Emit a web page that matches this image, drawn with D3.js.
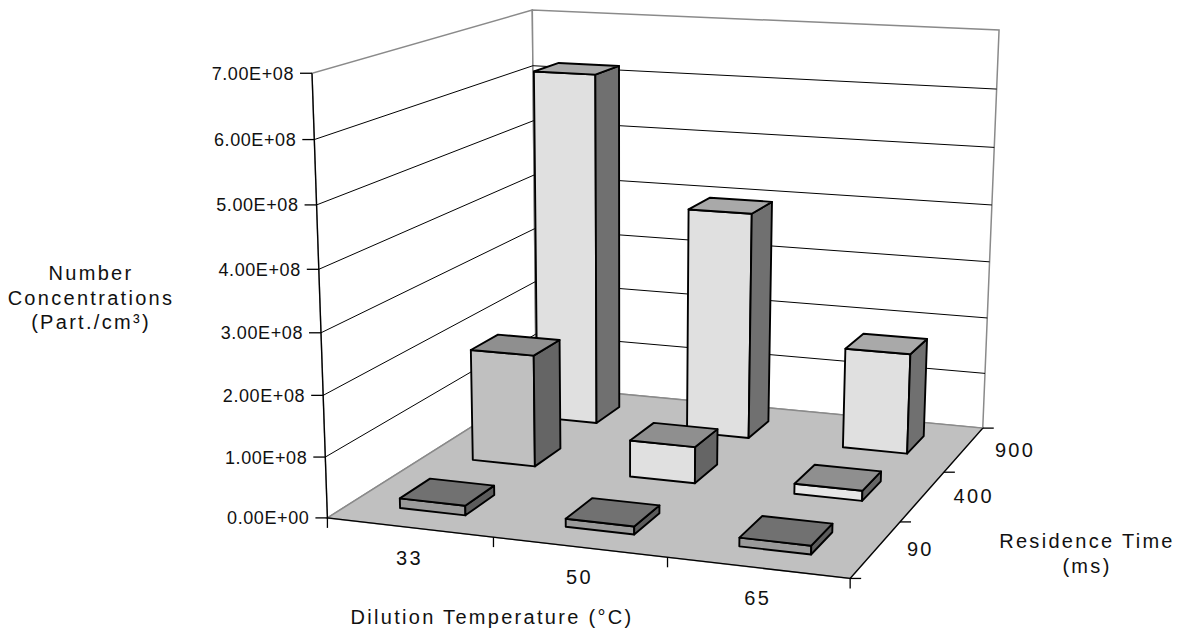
<!DOCTYPE html>
<html><head><meta charset="utf-8">
<script src="https://cdn.jsdelivr.net/npm/d3@7"></script>
<style>
body{margin:0;background:#fff}
text{font-family:"Liberation Sans",Arial,sans-serif;fill:#111}
</style>
</head><body><svg id="c" width="1185" height="632"></svg>
<script>
// ---------------- data ----------------
const temperatures = ["33", "50", "65"];          // Dilution Temperature (°C)
const residenceTimes = ["90", "400", "900"];      // Residence Time (ms), front -> back
const series90  = [1.6e7, 1.3e7, 1.4e7];
const series400 = [1.92e8, 6.2e7, 1.7e7];
const series900 = [6.2e8, 3.97e8, 1.75e8];
const yTickValues = [0, 1e8, 2e8, 3e8, 4e8, 5e8, 6e8, 7e8];
const yTickLabels = ["0.00E+00","1.00E+08","2.00E+08","3.00E+08","4.00E+08","5.00E+08","6.00E+08","7.00E+08"];
const seriesValues = [series90, series400, series900];

// ---------------- styles ----------------
const frontFill = [["#9a9a9a","#9a9a9a","#9a9a9a"],["#c0c0c0","#e0e0e0","#e6e6e6"],["#e0e0e0","#e0e0e0","#e0e0e0"]];
const topFill   = ["#717171", "#8f8f8f", "#a9a9a9"];
const sideFill  = ["#5c5c5c", "#656565", "#707070"];

// ---------------- camera (projection of the unit plot cube) ----------------
// world: x = temperature axis (0..1), y = value (0..1), z = depth front->back (0..1)
const calib = [
  [[0,0,0],[330,517.3]], [[0,1,0],[310.7,73]], [[0,6/7,0],[313.3,139.3]],
  [[0,0,1],[533,386]],   [[0,1,1],[534,10]],   [[0,6/7,1],[534,66]],
  [[1,0,1],[983.5,428]], [[1,1,1],[998.7,30]], [[1,6/7,1],[996,89.3]],
  [[1,0,0],[849.3,578.3]], [[1,0,1/3],[900,521.7]], [[1,0,2/3],[945,471.7]],
  [[1/3,0,0],[494,538]], [[2/3,0,0],[667,558]]
];
const CU = 600, CV = 300, CS = 300;
function fitCamera(pts){
  const A = [], b = [];
  for (const [[X,Y,Z],[u0,v0]] of pts){
    const u = (u0-CU)/CS, v = (v0-CV)/CS;
    A.push([X,Y,Z,1,0,0,0,0,-u*X,-u*Y,-u*Z]); b.push(u);
    A.push([0,0,0,0,X,Y,Z,1,-v*X,-v*Y,-v*Z]); b.push(v);
  }
  const n = 11;
  const M = Array.from({length:n}, () => new Array(n+1).fill(0));
  for (let r=0;r<A.length;r++){
    for (let i=0;i<n;i++){
      for (let j=0;j<n;j++) M[i][j] += A[r][i]*A[r][j];
      M[i][n] += A[r][i]*b[r];
    }
  }
  for (let c=0;c<n;c++){
    let p=c; for (let r=c+1;r<n;r++) if (Math.abs(M[r][c])>Math.abs(M[p][c])) p=r;
    [M[c],M[p]] = [M[p],M[c]];
    for (let r=0;r<n;r++){ if (r===c) continue;
      const f = M[r][c]/M[c][c];
      for (let k=c;k<=n;k++) M[r][k] -= f*M[c][k];
    }
  }
  return M.map((row,i)=>row[n]/row[i]);
}
const P = fitCamera(calib);
function proj([x,y,z]){
  const w = P[8]*x + P[9]*y + P[10]*z + 1;
  return [CU + CS*(P[0]*x+P[1]*y+P[2]*z+P[3])/w, CV + CS*(P[4]*x+P[5]*y+P[6]*z+P[7])/w];
}

// ---------------- scales ----------------
const xBand = d3.scaleBand().domain(temperatures).range([0,1]).paddingInner(0.6).paddingOuter(0.3);
const zBand = d3.scaleBand().domain(residenceTimes).range([0,1]).paddingInner(0.6).paddingOuter(0.3);
const xCat = d3.scalePoint().domain(temperatures).range([0,1]).padding(0.5);
const zCat = d3.scalePoint().domain(residenceTimes).range([0,1]).padding(0.5);
const yScale = d3.scaleLinear().domain([0, 7e8]).range([0, 1]);

const svg = d3.select("#c");
const line = d3.line();
const poly = pts => line(pts.map(proj)) + "Z";

// walls
const wallColor = "#8a8a8a";
svg.append("path").attr("d", poly([[0,0,0],[0,1,0],[0,1,1],[0,0,1]]))
  .attr("fill","#fff").attr("stroke",wallColor).attr("stroke-width",1.5);
svg.append("path").attr("d", poly([[0,0,1],[0,1,1],[1,1,1],[1,0,1]]))
  .attr("fill","#fff").attr("stroke",wallColor).attr("stroke-width",1.5);

// gridlines
const gridVals = yTickValues.filter(v => v > 0 && v < 7e8);
svg.append("g").selectAll("path").data(gridVals).join("path")
  .attr("d", v => { const y = yScale(v); return line([[0,y,0],[0,y,1],[1,y,1]].map(proj)); })
  .attr("fill","none").attr("stroke","#000").attr("stroke-width",1);

// floor
svg.append("path").attr("d", poly([[0,0,0],[1,0,0],[1,0,1],[0,0,1]]))
  .attr("fill","#c0c0c0").attr("stroke",wallColor).attr("stroke-width",1.5);

// axes lines
const axisG = svg.append("g").attr("stroke","#000").attr("stroke-width",1.3).attr("fill","none");
axisG.append("path").attr("d", line([[0,0,0],[0,1,0]].map(proj)));
axisG.append("path").attr("d", line([[0,0,0],[1,0,0]].map(proj)));
axisG.append("path").attr("d", line([[1,0,0],[1,0,1]].map(proj)));

// y ticks + labels
yTickValues.forEach((v,i) => {
  const [u,w] = proj([0, yScale(v), 0]);
  axisG.append("path").attr("d", `M${u-12},${w}H${u}`);
  svg.append("text").attr("x", u-18).attr("y", w).attr("dy","0.36em")
    .attr("text-anchor","end").attr("font-size",18).attr("letter-spacing",0.6)
    .text(yTickLabels[i]);
});
// x ticks (category boundaries)
[0,1/3,2/3,1].forEach(t => {
  const [u,w] = proj([t,0,0]);
  axisG.append("path").attr("d", `M${u},${w}V${w+10}`);
});
// z ticks
[0,1/3,2/3,1].forEach(t => {
  const [u,w] = proj([1,0,t]);
  axisG.append("path").attr("d", `M${u},${w}H${u+11}`);
});

// bars: back row first, left to right
const bars = [];
residenceTimes.forEach((rt, si) => temperatures.forEach((tc, ci) => bars.push({si, ci, rt, tc, v: seriesValues[si][ci]})));
bars.sort((a,b) => (b.si - a.si) || (a.ci - b.ci));
const barG = svg.append("g").attr("stroke","#000").attr("stroke-width",1.9).attr("stroke-linejoin","round");
bars.forEach(d => {
  const x0 = xBand(d.tc), x1 = x0 + xBand.bandwidth();
  const z0 = zBand(d.rt), z1 = z0 + zBand.bandwidth();
  const h = yScale(d.v);
  barG.append("path").attr("d", poly([[x0,0,z0],[x1,0,z0],[x1,h,z0],[x0,h,z0]])).attr("fill", frontFill[d.si][d.ci]);
  barG.append("path").attr("d", poly([[x1,0,z0],[x1,0,z1],[x1,h,z1],[x1,h,z0]])).attr("fill", sideFill[d.si]);
  barG.append("path").attr("d", poly([[x0,h,z0],[x1,h,z0],[x1,h,z1],[x0,h,z1]])).attr("fill", topFill[d.si]);
});

// category labels
const labelSize = 20, labelSpacing = 2.3;
temperatures.forEach(t => {
  const [u,w] = proj([xCat(t),0,0]);
  svg.append("text").attr("x",u).attr("y",w+30).attr("dy","0.36em").attr("text-anchor","middle")
    .attr("font-size",labelSize).attr("letter-spacing",labelSpacing).text(t);
});
residenceTimes.forEach(r => {
  const [u,w] = proj([1,0,zCat(r)]);
  svg.append("text").attr("x",u+31).attr("y",w).attr("dy","0.36em").attr("text-anchor","start")
    .attr("font-size",labelSize).attr("letter-spacing",labelSpacing).text(r);
});

// axis titles
function title(lines, x, y0, dy){
  lines.forEach((s,i) => svg.append("text").attr("x",x).attr("y",y0+i*dy).attr("dy","0.36em")
    .attr("text-anchor","middle").attr("font-size",labelSize).attr("letter-spacing",labelSpacing).text(s));
}
title(["Number","Concentrations","(Part./cm³)"], 91, 273, 24.5);
title(["Residence Time","(ms)"], 1087, 541, 25);
title(["Dilution Temperature (°C)"], 492, 617, 0);
</script>
</body></html>
